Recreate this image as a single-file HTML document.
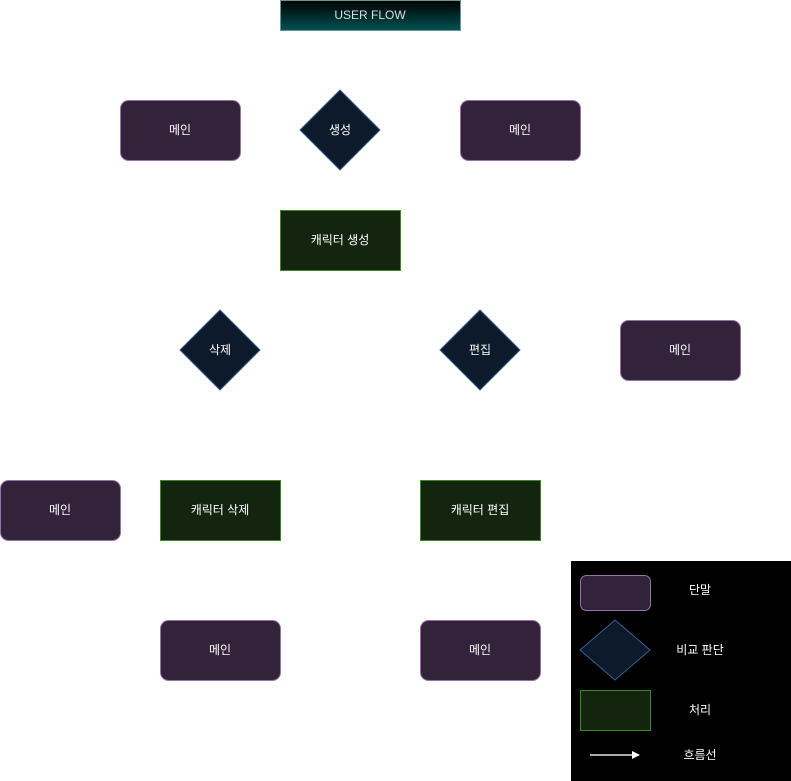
<!DOCTYPE html>
<html><head><meta charset="utf-8"><style>
html,body{margin:0;padding:0;background:#fff;}
svg{display:block;font-family:"Liberation Sans","Noto Sans CJK KR",sans-serif;}
</style></head><body>
<svg width="791" height="781" viewBox="0 0 791 781" xmlns="http://www.w3.org/2000/svg">
<defs>
<linearGradient id="g" x1="0" y1="0" x2="0" y2="1"><stop offset="0" stop-color="#000"/><stop offset="1" stop-color="#005252"/></linearGradient>
</defs>
<g font-size="12" fill="#fff" text-anchor="middle">
<rect x="280.5" y="0.5" width="180" height="30" fill="url(#g)" stroke="#5a9a9a"/>
<text x="370" y="19" fill="#ddd">USER FLOW</text>

<g fill="#33233a" stroke="#9673a6">
<rect x="120.5" y="100.5" width="120" height="60" rx="8"/>
<rect x="460.5" y="100.5" width="120" height="60" rx="8"/>
<rect x="620.5" y="320.5" width="120" height="60" rx="8"/>
<rect x="0.5" y="480.5" width="120" height="60" rx="8"/>
<rect x="160.5" y="620.5" width="120" height="60" rx="8"/>
<rect x="420.5" y="620.5" width="120" height="60" rx="8"/>
</g>
<g fill="#0d1a2c" stroke="#3a5f8f">
<polygon points="340,90 380,130 340,170 300,130"/>
<polygon points="220,310 260,350 220,390 180,350"/>
<polygon points="480,310 520,350 480,390 440,350"/>
</g>
<g fill="#13240f" stroke="#3d8a25">
<rect x="280.5" y="210.5" width="120" height="60"/>
<rect x="160.5" y="480.5" width="120" height="60"/>
<rect x="420.5" y="480.5" width="120" height="60"/>
</g>
<text x="180" y="134">메인</text>
<text x="520" y="134">메인</text>
<text x="680" y="354">메인</text>
<text x="60" y="514">메인</text>
<text x="220" y="654">메인</text>
<text x="480" y="654">메인</text>
<text x="340" y="134">생성</text>
<text x="220" y="354">삭제</text>
<text x="480" y="354">편집</text>
<text x="340" y="244">캐릭터 생성</text>
<text x="220" y="514">캐릭터 삭제</text>
<text x="480" y="514">캐릭터 편집</text>

<rect x="571" y="561" width="220" height="220" fill="#000"/>
<rect x="580.5" y="575.5" width="70" height="35" rx="6" fill="#33233a" stroke="#9673a6"/>
<polygon points="615,620 650,650 615,680 580,650" fill="#0d1a2c" stroke="#3a5f8f"/>
<rect x="580.5" y="690.5" width="70" height="40" fill="#13240f" stroke="#3d8a25"/>
<line x1="590" y1="755" x2="632" y2="755" stroke="#aaa" stroke-width="2"/>
<polygon points="632,751 640,755 632,759" fill="#fff"/>
<text x="700" y="594">단말</text>
<text x="700" y="654">비교 판단</text>
<text x="700" y="714">처리</text>
<text x="700" y="759">흐름선</text>
</g>
</svg>
</body></html>
